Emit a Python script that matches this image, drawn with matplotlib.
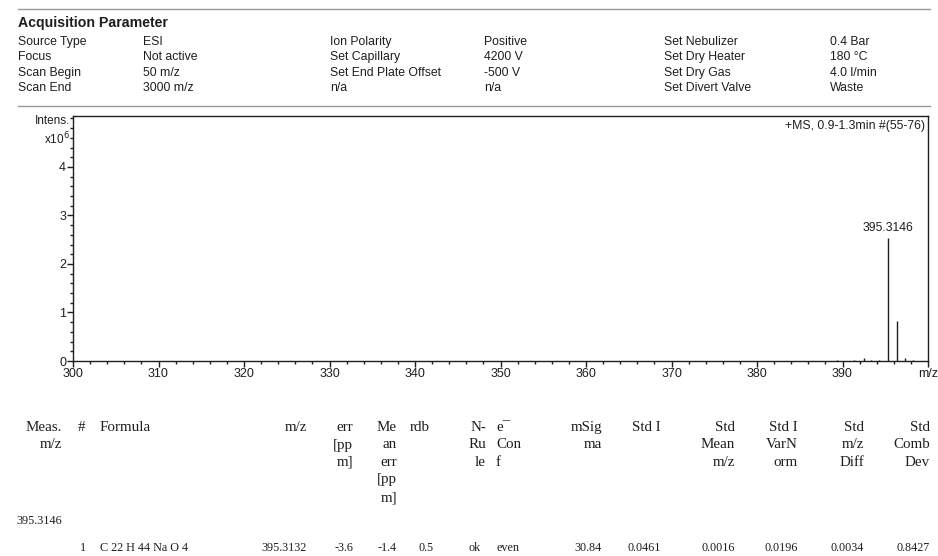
import numpy as np
import matplotlib
matplotlib.use("Agg")
import matplotlib.pyplot as plt
from matplotlib.ticker import MultipleLocator

# acquisition parameters (label, value) in three column pairs
param_col1 = ["Source Type", "Focus", "Scan Begin", "Scan End"]
param_val1 = ["ESI", "Not active", "50 m/z", "3000 m/z"]
param_col2 = ["Ion Polarity", "Set Capillary", "Set End Plate Offset", "n/a"]
param_val2 = ["Positive", "4200 V", "-500 V", "n/a"]
param_col3 = ["Set Nebulizer", "Set Dry Heater", "Set Dry Gas", "Set Divert Valve"]
param_val3 = ["0.4 Bar", "180 \u00b0C", "4.0 l/min", "Waste"]

# spectrum peaks (m/z, intensity x10^6)
peak_mz = [366.3, 379.4, 389.3, 391.3, 392.5, 393.3, 394.3, 395.3146, 396.318, 397.32, 398.3]
peak_int = [0.01, 0.01, 0.02, 0.03, 0.06, 0.03, 0.02, 2.54, 0.82, 0.07, 0.02]
label_peak = "395.3146"
scan_info = "+MS, 0.9-1.3min #(55-76)"
x_ticks = [300, 310, 320, 330, 340, 350, 360, 370, 380, 390, 400]
x_ticklabels = ["300", "310", "320", "330", "340", "350", "360", "370", "380", "390", "m/z"]

# formula table
table_headers = [
    ("Meas.\nm/z", "right"), ("#", "left"), ("Formula", "left"), ("m/z", "right"),
    ("err\n[pp\nm]", "right"), ("Me\nan\nerr\n[pp\nm]", "right"), ("rdb", "left"),
    ("N-\nRu\nle", "right"), ("e\u00af\nCon\nf", "left"), ("mSig\nma", "right"),
    ("Std I", "right"), ("Std\nMean\nm/z", "right"), ("Std I\nVarN\norm", "right"),
    ("Std\nm/z\nDiff", "right"), ("Std\nComb\nDev", "right"),
]
meas_mz = "395.3146"
row_values = ["", "1", "C 22 H 44 Na O 4", "395.3132", "-3.6", "-1.4", "0.5", "ok", "even",
              "30.84", "0.0461", "0.0016", "0.0196", "0.0034", "0.8427"]

W, H = 938, 556
fig = plt.figure(figsize=(W / 100, H / 100), dpi=100)
ink = "#1e1e1e"


def fx(px):
    return px / W


def fy(py):
    return 1 - py / H


sans = "Liberation Sans"
serif = "Liberation Serif"

# header block
fig.add_artist(plt.Line2D([fx(18), fx(930)], [fy(9), fy(9)], color="#9a9a9a", lw=1))
fig.add_artist(plt.Line2D([fx(18), fx(930)], [fy(106), fy(106)], color="#9a9a9a", lw=1))
fig.text(fx(18), fy(23), "Acquisition Parameter", fontsize=10.2, fontweight="bold",
         family=sans, color=ink, va="center")
rows_y = [42, 57, 73, 88]
cols = [(18, param_col1), (143, param_val1), (330, param_col2), (484, param_val2),
        (664, param_col3), (830, param_val3)]
for x, texts in cols:
    for y, t in zip(rows_y, texts):
        fig.text(fx(x), fy(y), t, fontsize=8.8, family=sans, color=ink, va="center")

# spectrum
ax = fig.add_axes([fx(73), fy(361), fx(928 - 73), (361 - 116) / H])
ax.vlines(peak_mz, 0, peak_int, color=ink, lw=1)
ax.set_xlim(300, 400)
ax.set_ylim(0, 5.05)
ax.set_xticks(x_ticks)
ax.set_xticklabels(x_ticklabels)
ax.xaxis.set_minor_locator(MultipleLocator(2))
ax.set_yticks([0, 1, 2, 3, 4])
ax.yaxis.set_minor_locator(MultipleLocator(0.2))
ax.tick_params(which="major", length=4, width=1, color=ink, labelsize=9, pad=1,
               labelcolor=ink)
ax.tick_params(which="minor", length=2.5, width=1, color=ink)
for lab in ax.get_xticklabels() + ax.get_yticklabels():
    lab.set_family(sans)
for s in ax.spines.values():
    s.set_color(ink)
    s.set_linewidth(1)
ax.text(0.997, 0.985, scan_info, transform=ax.transAxes, ha="right", va="top",
        fontsize=8.8, family=sans, color=ink)
ax.annotate(label_peak, (peak_mz[7], peak_int[7]), xytext=(0, 3), textcoords="offset points",
            ha="center", va="bottom", fontsize=8.8, family=sans, color=ink)
fig.text(fx(70), fy(121), "Intens.", ha="right", va="center", fontsize=8.5, family=sans, color=ink)
fig.text(fx(70), fy(139), "x10$^6$", ha="right", va="center", fontsize=8.5, family=sans, color=ink)

# formula table
head_x = [62, 78, 100, 307, 353, 397, 410, 486, 496, 602, 661, 735, 798, 864, 930]
for (t, al), x in zip(table_headers, head_x):
    fig.text(fx(x), fy(421), t, ha=al, va="top", fontsize=10.8, family=serif,
             color=ink, linespacing=1.45)
fig.text(fx(62), fy(521), meas_mz, ha="right", va="center", fontsize=8.8, family=serif, color=ink)
row_x = [62, 86, 100, 307, 353, 397, 434, 481, 496, 602, 661, 735, 798, 864, 930]
row_al = ["right", "right", "left", "right", "right", "right", "right", "right", "left",
          "right", "right", "right", "right", "right", "right"]
for t, x, al in zip(row_values, row_x, row_al):
    fig.text(fx(x), fy(548), t, ha=al, va="center", fontsize=8.7, family=serif, color=ink)

fig.savefig("out.png", dpi=100, facecolor="white")
